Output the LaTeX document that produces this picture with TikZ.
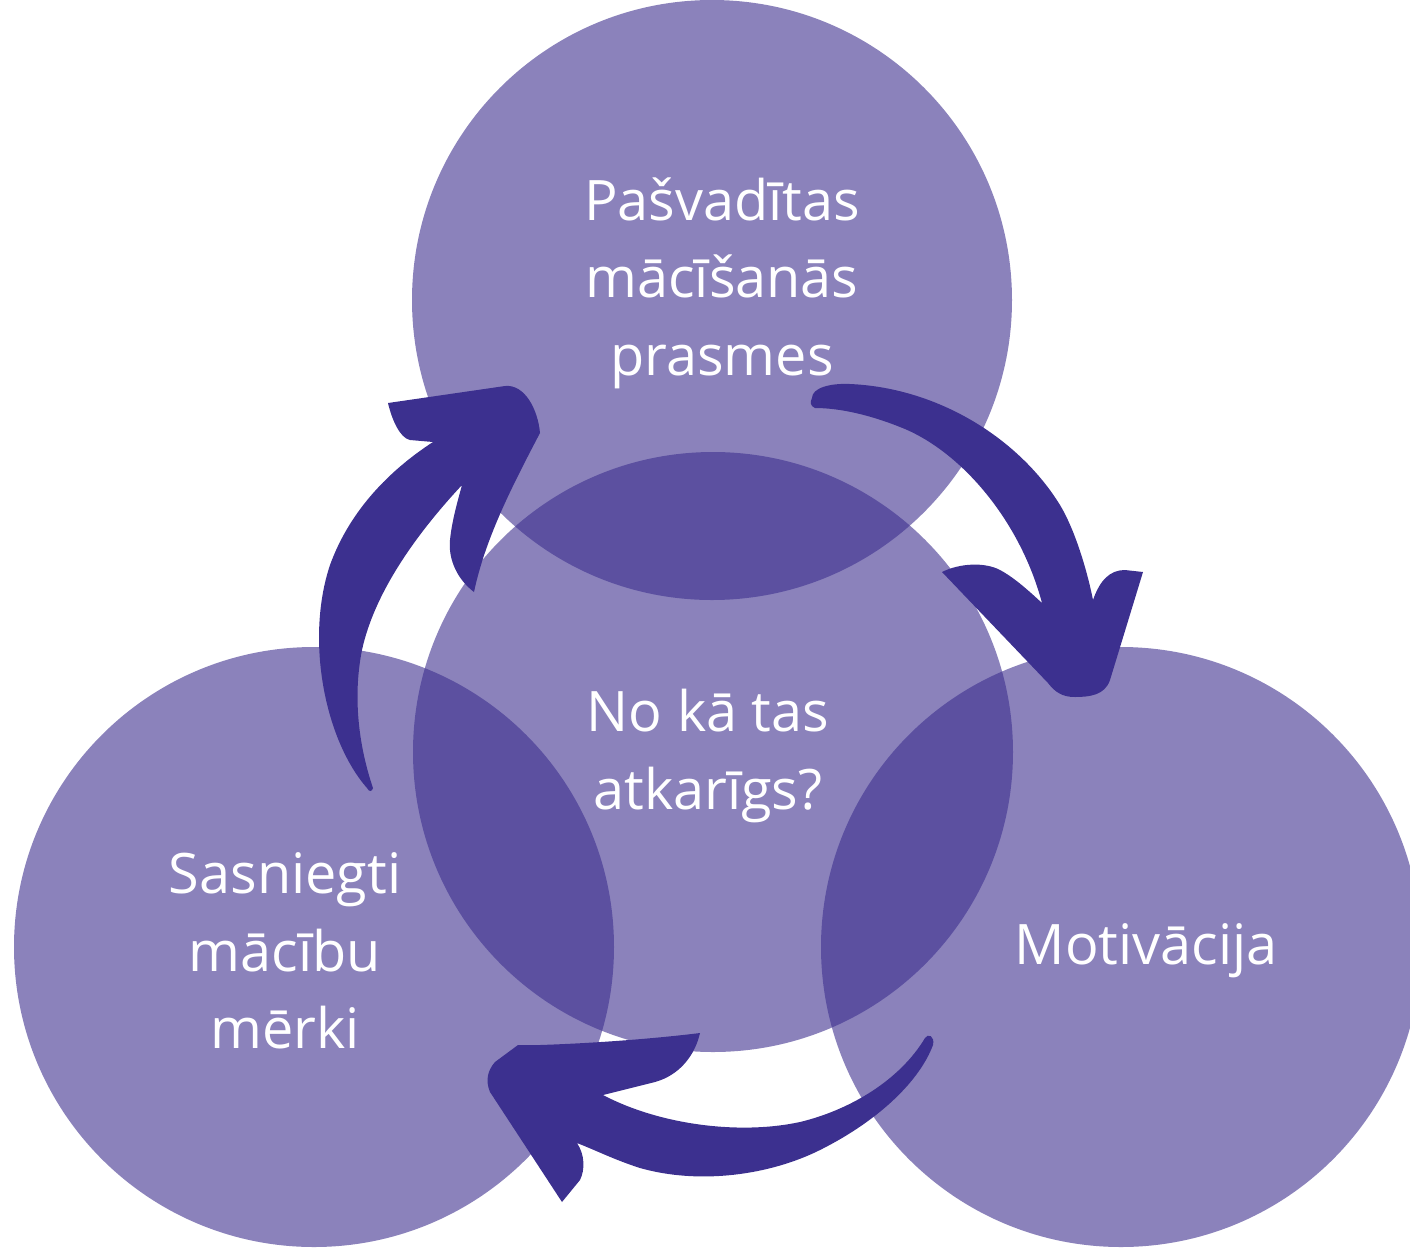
\documentclass[tikz,border=0pt]{standalone}
\usepackage{fontspec}
\setmainfont{Open Sans}
\definecolor{ringc}{HTML}{3D2F8E}
\definecolor{arrowc}{HTML}{3C308F}
\tikzset{
  ring/.style={fill=ringc, fill opacity=0.6},
  cyclearrow/.style={fill=arrowc},
  lbl/.style={text=white, align=center, inner sep=0pt,
    font=\fontsize{27.9}{38.7}\selectfont}
}
\begin{document}
\begin{tikzpicture}[x=0.5pt,y=-0.5pt]
\clip (0,0) rectangle (1410,1249);
% circles
\fill[ring] (712,300) circle (300);
\fill[ring] (713,752) circle (300);
\fill[ring] (314,947) circle (300);
\fill[ring] (1121,947) circle (300);
% arrow: left, upward
\fill[cyclearrow] (367,788) .. controls (325,740) and (305,640) .. (330,565)
  .. controls (350,510) and (390,470) .. (433,442)
  -- (410,440) .. controls (400,438) and (392,420) .. (388,403)
  -- (505,386) .. controls (525,384) and (538,410) .. (540,433)
  .. controls (510,490) and (485,540) .. (474,592)
  .. controls (458,580) and (448,560) .. (450,540)
  .. controls (452,520) and (458,500) .. (462,485)
  .. controls (420,530) and (375,590) .. (362,650)
  .. controls (352,700) and (360,750) .. (373,788)
  .. controls (372,792) and (369,792) .. (367,788) -- cycle;
% arrow: top right, downward
\fill[cyclearrow] (812,398) .. controls (812,388) and (830,383) .. (850,384)
  .. controls (940,388) and (1020,440) .. (1060,505)
  .. controls (1075,530) and (1087,570) .. (1093,600)
  .. controls (1100,580) and (1110,570) .. (1125,570)
  -- (1143,572) -- (1110,680)
  .. controls (1105,695) and (1090,697) .. (1075,697)
  .. controls (1062,697) and (1055,692) .. (1048,683)
  -- (942,572) .. controls (960,563) and (985,562) .. (1000,570)
  .. controls (1015,578) and (1030,592) .. (1042,603)
  .. controls (1020,520) and (960,450) .. (900,427)
  .. controls (870,415) and (840,408) .. (815,408)
  .. controls (810,406) and (810,402) .. (812,398) -- cycle;
% arrow: bottom, leftward
\fill[cyclearrow] (933,1045) .. controls (920,1080) and (880,1120) .. (820,1150)
  .. controls (770,1175) and (700,1185) .. (640,1168)
  .. controls (615,1160) and (595,1150) .. (577,1143)
  .. controls (585,1155) and (585,1170) .. (580,1180)
  -- (562,1202) -- (490,1092)
  .. controls (485,1080) and (488,1070) .. (495,1062)
  -- (518,1045) -- (540,1045)
  .. controls (600,1043) and (660,1038) .. (700,1033)
  .. controls (695,1055) and (680,1075) .. (655,1082)
  -- (603,1095)
  .. controls (660,1125) and (740,1135) .. (800,1122)
  .. controls (850,1110) and (900,1080) .. (925,1038)
  .. controls (928,1033) and (935,1036) .. (933,1045) -- cycle;
% labels
\node[lbl] (top) at (722,283) {Pašvadītas\\mācīšanās\\prasmes};
\node[lbl] (mid) at (708,756) {No kā tas\\atkarīgs?};
\node[lbl] (left) at (285,951) {Sasniegti\\mācību\\mērki};
\node[lbl] (right) at (1146,951) {Motivācija};
\end{tikzpicture}
\end{document}
